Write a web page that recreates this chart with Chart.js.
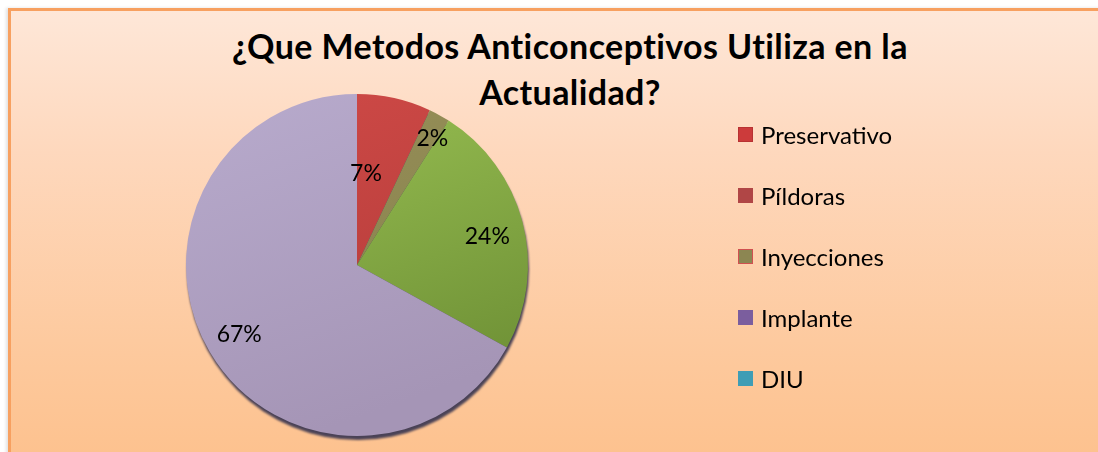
<!DOCTYPE html>
<html>
<head>
<meta charset="utf-8">
<script src="https://cdn.jsdelivr.net/npm/chart.js@4"></script>
<style>
  html, body { margin: 0; padding: 0; width: 1098px; height: 452px; overflow: hidden; background: #fff; }
  #marco {
    position: absolute; left: 8px; top: 8px; width: 1120px; height: 470px;
    border: 3px solid #f7a060;
    background: linear-gradient(to bottom, #fee7d8 0%, #fed8bd 30%, #fdca9f 70%, #fdc08b 100%);
    box-shadow: -2px 0 3px rgba(0,0,0,0.12);
  }
  #titulo {
    position: absolute; left: 0; top: 23px; width: 1140px;
    text-align: center; font: bold 34px Lato, sans-serif; letter-spacing: 0.4px; line-height: 46px; color: #000;
  }
  #grafico { position: absolute; left: 0; top: 0; }
  #leyenda { position: absolute; left: 738px; top: 0; font: 24px Lato, sans-serif; color: #000; }
  .item { position: absolute; left: 0; height: 30px; display: flex; align-items: center; white-space: nowrap; }
  .caja { width: 13px; height: 13px; border: 1px solid; margin-right: 8px; flex: none; }
</style>
</head>
<body>
<div id="marco"></div>
<div id="titulo">¿Que Metodos Anticonceptivos Utiliza en la<br>Actualidad?</div>
<canvas id="grafico" width="1098" height="452"></canvas>
<div id="leyenda"></div>
<script>
const categorias = ['Preservativo', 'Píldoras', 'Inyecciones', 'Implante', 'DIU'];
const valores = [7, 2, 24, 67, 0];

// colores de las porciones [claro, oscuro]
const coloresPorcion = [
  ['#d04a47', '#b23b39'],
  ['#979059', '#87804c'],
  ['#9cc455', '#6f9136'],
  ['#b8abcd', '#a595b6'],
  ['#4bacc6', '#3a8ea6']
];
// colores de la leyenda (como salen en la imagen)
const coloresLeyenda = ['#cc3b3b', '#b04646', '#8c8652', '#7b5e9e', '#3f9db5'];
const bordesLeyenda = ['#b83232', '#b04646', '#d05050', '#7b5e9e', '#3f9db5'];

// posicion de la etiqueta: fraccion del radio y giro en grados
const distEtiqueta = [0.54, 0.86, 0.78, 0.8, 0.8];
const giroEtiqueta = [-7, 2, 2, 0, 0];

const canvas = document.getElementById('grafico');

const sombra = {
  id: 'sombra',
  beforeDatasetsDraw(chart) {
    const arc = chart.getDatasetMeta(0).data[0];
    if (!arc) return;
    const ctx = chart.ctx;
    ctx.save();
    ctx.fillStyle = '#4a4256';
    ctx.filter = 'blur(1px)';
    ctx.beginPath();
    ctx.arc(arc.x + 1, arc.y + 4, arc.outerRadius, 0, Math.PI * 2);
    ctx.fill();
    ctx.restore();
  }
};

const etiquetas = {
  id: 'etiquetas',
  afterDatasetsDraw(chart) {
    const ctx = chart.ctx;
    const total = valores.reduce((a, b) => a + b, 0);
    ctx.save();
    ctx.font = '23px Lato, sans-serif';
    ctx.fillStyle = '#000';
    ctx.textAlign = 'center';
    ctx.textBaseline = 'middle';
    chart.getDatasetMeta(0).data.forEach((arc, i) => {
      if (!valores[i]) return;
      const p = arc.getProps(['x', 'y', 'startAngle', 'endAngle', 'outerRadius'], true);
      const medio = (p.startAngle + p.endAngle) / 2 + giroEtiqueta[i] * Math.PI / 180;
      const r = p.outerRadius * distEtiqueta[i];
      const txt = Math.round(valores[i] / total * 100) + '%';
      ctx.fillText(txt, p.x + Math.cos(medio) * r, p.y + Math.sin(medio) * r);
    });
    ctx.restore();
  }
};

new Chart(canvas, {
  type: 'pie',
  data: {
    labels: categorias,
    datasets: [{
      data: valores,
      backgroundColor: (c) => {
        const area = c.chart.chartArea;
        const col = coloresPorcion[c.dataIndex];
        if (!area) return col[0];
        const g = c.chart.ctx.createLinearGradient(area.left, area.top, area.left + 120, area.bottom);
        g.addColorStop(0, col[0]);
        g.addColorStop(1, col[1]);
        return g;
      },
      borderWidth: 0,
      hoverOffset: 0
    }]
  },
  options: {
    responsive: false,
    animation: false,
    layout: { padding: { left: 186, right: 570, top: 94, bottom: 16 } },
    plugins: {
      legend: { display: false },
      title: { display: false },
      tooltip: { enabled: false }
    }
  },
  plugins: [sombra, etiquetas]
});

// leyenda
const leyenda = document.getElementById('leyenda');
categorias.forEach((cat, i) => {
  const item = document.createElement('div');
  item.className = 'item';
  item.style.top = (134 + i * 61 - 15) + 'px';
  const caja = document.createElement('span');
  caja.className = 'caja';
  caja.style.background = coloresLeyenda[i];
  caja.style.borderColor = bordesLeyenda[i];
  item.appendChild(caja);
  item.appendChild(document.createTextNode(cat));
  leyenda.appendChild(item);
});
</script>
</body>
</html>
